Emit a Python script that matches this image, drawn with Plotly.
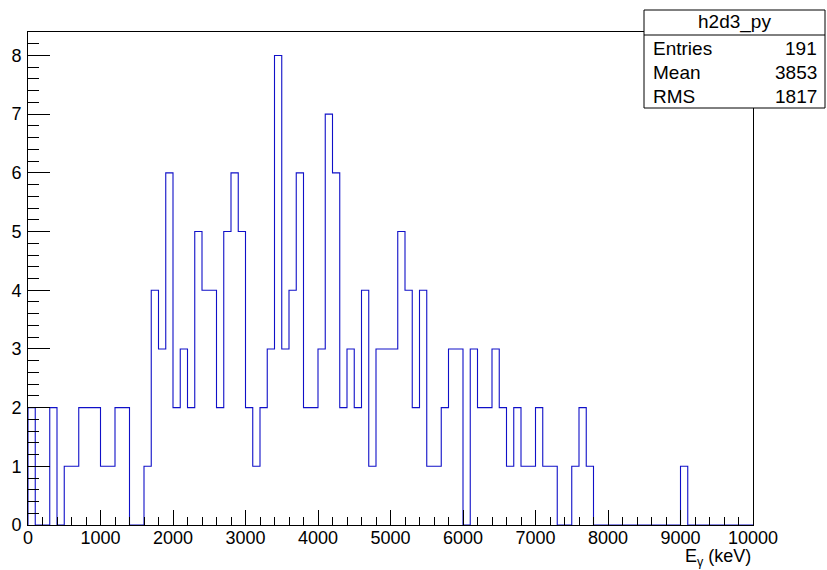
import numpy as np
import plotly.graph_objects as go

# Histogram h2d3_py: 100 bins of 100 keV from 0 to 10000 keV
x_min, x_max, n_bins = 0, 10000, 100
counts = [2, 0, 0, 2, 0, 1, 1, 2, 2, 2,
          1, 1, 2, 2, 0, 0, 1, 4, 3, 6,
          2, 3, 2, 5, 4, 4, 2, 5, 6, 5,
          2, 1, 2, 3, 8, 3, 4, 6, 2, 2,
          3, 7, 6, 2, 3, 2, 4, 1, 3, 3,
          3, 5, 4, 2, 4, 1, 1, 2, 3, 3,
          0, 3, 2, 2, 3, 2, 1, 2, 1, 1,
          2, 1, 1, 0, 0, 1, 2, 1, 0, 0,
          0, 0, 0, 0, 0, 0, 0, 0, 0, 0,
          1, 0, 0, 0, 0, 0, 0, 0, 0, 0]
stats_title = "h2d3_py"
stats_labels = ["Entries", "Mean", "RMS"]
stats_values = ["191", "3853", "1817"]
x_ticks = [0, 1000, 2000, 3000, 4000, 5000, 6000, 7000, 8000, 9000, 10000]
y_ticks = [0, 1, 2, 3, 4, 5, 6, 7, 8]
y_max = 8.4

edges = np.linspace(x_min, x_max, n_bins + 1)
step_x = [edges[0]] + list(edges[:-1]) + [edges[-1]]
step_y = [0] + list(counts) + [0]

W, H = 827, 570
L, R, T, B = 28, 753, 32, 525  # plot area in pixels

fig = go.Figure()
fig.add_trace(go.Scatter(
    x=step_x, y=step_y, mode="lines", line_shape="hv",
    line=dict(color="#1010c8", width=1.1), hoverinfo="skip", showlegend=False))

font = "Liberation Sans, Arial, Helvetica, sans-serif"

fig.update_layout(
    width=W, height=H,
    margin=dict(l=L, r=W - R, t=T, b=H - B, pad=0),
    paper_bgcolor="white", plot_bgcolor="white",
    font=dict(family=font, size=18, color="black"),
    showlegend=False,
)
fig.update_xaxes(
    range=[x_min, x_max], tickvals=x_ticks, ticktext=[str(v) for v in x_ticks],
    ticks="inside", ticklen=15, tickwidth=1, tickcolor="black",
    minor=dict(dtick=200, tick0=0, ticks="inside", ticklen=8, tickcolor="black", tickwidth=1),
    showline=True, linecolor="black", linewidth=1, mirror=True,
    showgrid=False, zeroline=False, tickfont=dict(size=18),
    ticklabelstandoff=-4,
)
fig.update_yaxes(
    range=[0, y_max], tickvals=y_ticks, ticktext=[str(v) for v in y_ticks],
    ticks="inside", ticklen=22, tickwidth=1, tickcolor="black",
    minor=dict(dtick=0.2, tick0=0, ticks="inside", ticklen=11, tickcolor="black", tickwidth=1),
    showline=True, linecolor="black", linewidth=1, mirror=True,
    showgrid=False, zeroline=False, tickfont=dict(size=18),
    ticklabelstandoff=2,
)

def px2paper(px, py):
    return (px - L) / (R - L), (B - py) / (B - T)

# Axis title (right-aligned, ROOT style)
ax, ay = px2paper(R, 557)
fig.add_annotation(x=ax, y=ay, xref="paper", yref="paper", xanchor="right", yanchor="middle",
                   text="E<sub>γ</sub> (keV)", showarrow=False, font=dict(size=18))

# Stats box
bx0, by1 = px2paper(644, 10)
bx1, by0 = px2paper(825, 108)
_, sep_y = px2paper(0, 35)
fig.add_shape(type="rect", xref="paper", yref="paper", x0=bx0, x1=bx1, y0=by0, y1=by1,
              line=dict(color="black", width=1), fillcolor="white", layer="above")
fig.add_shape(type="line", xref="paper", yref="paper", x0=bx0, x1=bx1, y0=sep_y, y1=sep_y,
              line=dict(color="black", width=1), layer="above")
cx, cy = px2paper((644 + 825) / 2, 22)
fig.add_annotation(x=cx, y=cy, xref="paper", yref="paper", text=stats_title, showarrow=False,
                   xanchor="center", yanchor="middle", font=dict(size=19))
row_y = [48, 73, 97]
for lab, val, ry in zip(stats_labels, stats_values, row_y):
    lx, ly = px2paper(651, ry)
    vx, _ = px2paper(819, ry)
    fig.add_annotation(x=lx, y=ly, xref="paper", yref="paper", text=lab, showarrow=False,
                       xanchor="left", yanchor="middle", font=dict(size=19))
    fig.add_annotation(x=vx, y=ly, xref="paper", yref="paper", text=val, showarrow=False,
                       xanchor="right", yanchor="middle", font=dict(size=19))

fig.write_html("out.html")
